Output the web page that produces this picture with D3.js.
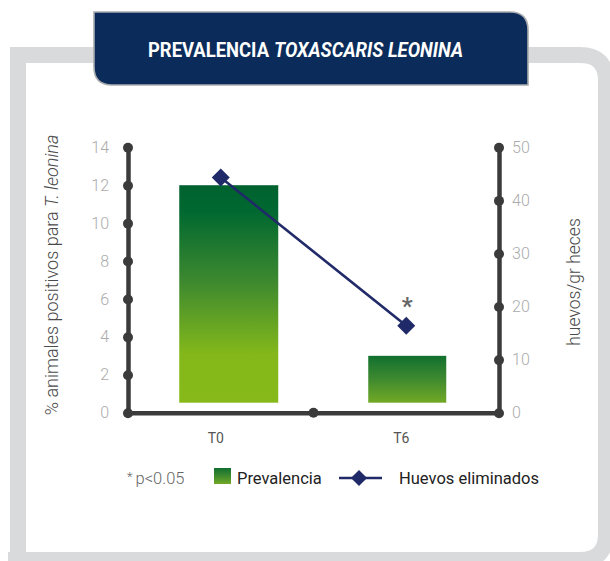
<!DOCTYPE html>
<html>
<head>
<meta charset="utf-8">
<script src="https://cdn.jsdelivr.net/npm/d3@7"></script>
<style>
  html, body { margin: 0; padding: 0; background: #fff; }
  svg { display: block; }
</style>
</head>
<body>
<svg id="chart" width="610" height="561"></svg>
<script>
// Sampling times and measured values
const categories = ["T0", "T6"];
const prevalence = [12, 3];            // % animals positive for T. leonina
const eggs = [44.3, 16.4];              // eggs per gram of faeces
const significant = [false, true];      // * p<0.05
const leftTicks = [0, 2, 4, 6, 8, 10, 12, 14];
const rightTicks = [0, 10, 20, 30, 40, 50];

const svg = d3.select("#chart");
const W = 610, H = 561;
const axisColor = "#3b3b3b";
const tickColor = "#ababab";
const font = "Roboto, 'Open Sans', sans-serif";

// Gradients for the bars and the legend swatch
const defs = svg.append("defs");
function grad(id, stops) {
  const g = defs.append("linearGradient").attr("id", id)
    .attr("x1", 0).attr("y1", 0).attr("x2", 0).attr("y2", 1);
  stops.forEach(s => g.append("stop").attr("offset", s[0]).attr("stop-color", s[1]));
}
grad("gBar0", [[0, "#00622f"], [0.12, "#006830"], [0.45, "#3f8a2f"], [0.78, "#84b81a"], [1, "#86b919"]]);
grad("gBar1", [[0, "#11702f"], [0.5, "#3f8a2f"], [1, "#72a925"]]);
const barGrad = ["url(#gBar0)", "url(#gBar1)"];

// Outer light-grey frame
const fr = { l: 18, t: 55, r: 606, b: 560, rad: 26 };
svg.append("path")
  .attr("d", `M${fr.l},${H + 20} L${fr.l},${fr.t} L${fr.r - fr.rad},${fr.t}
              Q${fr.r},${fr.t} ${fr.r},${fr.t + fr.rad} L${fr.r},${fr.b - fr.rad}
              Q${fr.r},${fr.b} ${fr.r - fr.rad},${fr.b} L${fr.l - 10},${fr.b}`)
  .attr("fill", "none").attr("stroke", "#d9dadb").attr("stroke-width", 16);

// Title banner
const tb = { x: 94, y: 12, w: 434, h: 73, r: 18 };
svg.append("path")
  .attr("d", `M${tb.x},${tb.y} L${tb.x + tb.w - tb.r},${tb.y}
              Q${tb.x + tb.w},${tb.y} ${tb.x + tb.w},${tb.y + tb.r}
              L${tb.x + tb.w},${tb.y + tb.h} L${tb.x + tb.r},${tb.y + tb.h}
              Q${tb.x},${tb.y + tb.h} ${tb.x},${tb.y + tb.h - tb.r} Z`)
  .attr("fill", "#0b2c5a").attr("stroke", "#a9abae").attr("stroke-width", 1.6);
svg.append("text").attr("x", 148).attr("y", 57)
  .attr("font-family", font).attr("font-weight", 700).attr("font-size", 19.5)
  .attr("fill", "#fff").attr("textLength", 121).attr("lengthAdjust", "spacingAndGlyphs")
  .text("PREVALENCIA");
svg.append("text").attr("x", 274).attr("y", 57)
  .attr("font-family", font).attr("font-weight", 700).attr("font-style", "italic")
  .attr("font-size", 19.5).attr("fill", "#fff")
  .attr("textLength", 189).attr("lengthAdjust", "spacingAndGlyphs")
  .text("TOXASCARIS LEONINA");

// Scales
const plot = { l: 128, r: 499, t: 147.3, b: 412.7 };
const x = d3.scaleBand().domain(categories).range([plot.l, plot.r]);
const yL = d3.scaleLinear().domain([0, 14]).range([plot.b, plot.t]);
const yR = d3.scaleLinear().domain([0, 50]).range([plot.b, plot.t]);
const cx = c => x(c) + x.bandwidth() / 2;

// Bars (sit slightly above the baseline line)
const barShape = [{ dx: 8, w: 99 }, { dx: 1, w: 78 }];
const barGap = 10;
svg.append("g").selectAll("rect").data(categories).join("rect")
  .attr("x", (c, i) => cx(c) + barShape[i].dx - barShape[i].w / 2)
  .attr("width", (c, i) => barShape[i].w)
  .attr("y", (c, i) => yL(prevalence[i]))
  .attr("height", (c, i) => yL(0) - barGap - yL(prevalence[i]))
  .attr("fill", (c, i) => barGrad[i]);

// Axes: thick lines with dot markers at every tick
function styleAxis(g) {
  g.select(".domain").attr("stroke", axisColor).attr("stroke-width", 4.5);
  g.selectAll(".tick line").remove();
  g.selectAll(".tick text")
    .attr("fill", tickColor).attr("font-family", font).attr("font-weight", 300)
    .attr("font-size", 16);
}
const gL = svg.append("g").attr("transform", `translate(${plot.l},0)`)
  .call(d3.axisLeft(yL).tickValues(leftTicks).tickSize(0).tickPadding(19).tickSizeOuter(0));
styleAxis(gL);
gL.selectAll(".tick").append("circle").attr("r", 5).attr("fill", axisColor);

const gR = svg.append("g").attr("transform", `translate(${plot.r},0)`)
  .call(d3.axisRight(yR).tickValues(rightTicks).tickSize(0).tickPadding(13).tickSizeOuter(0));
styleAxis(gR);
gR.selectAll(".tick").append("circle").attr("r", 5).attr("fill", axisColor);

const gB = svg.append("g").attr("transform", `translate(0,${plot.b})`)
  .call(d3.axisBottom(x).tickSize(0).tickSizeOuter(0).tickPadding(0));
gB.select(".domain").attr("stroke", axisColor).attr("stroke-width", 4.5);
gB.selectAll(".tick text").remove();
gB.append("circle").attr("cx", (plot.l + plot.r) / 2).attr("cy", 0).attr("r", 5).attr("fill", axisColor);
gB.selectAll(".cat").data(categories).join("text").attr("class", "cat")
  .attr("x", c => cx(c) - 5).attr("y", 30).attr("text-anchor", "middle")
  .attr("font-family", font).attr("font-size", 14).attr("fill", "#555")
  .text(c => c);

// Axis titles
const lt = svg.append("text")
  .attr("transform", `translate(58,${(plot.t + plot.b) / 2 - 5}) rotate(-90)`)
  .attr("text-anchor", "middle").attr("font-family", font).attr("font-weight", 300)
  .attr("font-size", 18).attr("fill", "#4a4a4a");
lt.append("tspan").text("% animales positivos para ");
lt.append("tspan").attr("font-style", "italic").text("T. leonina");

svg.append("text")
  .attr("transform", `translate(580,${(plot.t + plot.b) / 2 + 2}) rotate(-90)`)
  .attr("text-anchor", "middle").attr("font-family", font).attr("font-weight", 300)
  .attr("font-size", 17.5).attr("fill", "#4a4a4a")
  .text("huevos/gr heces");

// Egg count line with diamond markers
const lineColor = "#202a68";
svg.append("path")
  .datum(categories)
  .attr("d", d3.line().x(c => cx(c)).y((c, i) => yR(eggs[i])))
  .attr("fill", "none").attr("stroke", lineColor).attr("stroke-width", 2.6);
const diamond = d3.symbol().type(d3.symbolSquare).size(162);
svg.append("g").selectAll("path").data(categories).join("path")
  .attr("transform", (c, i) => `translate(${cx(c)},${yR(eggs[i])}) rotate(45)`)
  .attr("d", diamond).attr("fill", lineColor);

// Significance marks
svg.append("g").selectAll("text").data(categories.filter((c, i) => significant[i])).join("text")
  .attr("x", c => cx(c) + 1)
  .attr("y", c => yR(eggs[categories.indexOf(c)]) - 12)
  .attr("text-anchor", "middle").attr("font-family", font).attr("font-weight", 700)
  .attr("font-size", 24).attr("fill", "#666")
  .text("*");

// Legend
const lg = svg.append("g");
lg.append("text").attr("x", 127).attr("y", 484)
  .attr("font-family", font).attr("font-weight", 300).attr("font-size", 16.5).attr("fill", "#666")
  .call(t => {
    t.append("tspan").attr("font-size", 13).attr("dy", -3).text("*");
    t.append("tspan").attr("dy", 3).attr("dx", 3).text("p<0.05");
  });
lg.append("rect").attr("x", 214).attr("y", 468).attr("width", 17).attr("height", 16)
  .attr("fill", "url(#gBar1)");
lg.append("text").attr("x", 237).attr("y", 484)
  .attr("font-family", font).attr("font-size", 16.5).attr("fill", "#222")
  .text("Prevalencia");
lg.append("line").attr("x1", 339).attr("x2", 382).attr("y1", 478).attr("y2", 478)
  .attr("stroke", lineColor).attr("stroke-width", 2.6);
lg.append("path").attr("transform", "translate(359,478) rotate(45)")
  .attr("d", d3.symbol().type(d3.symbolSquare).size(130)).attr("fill", lineColor);
lg.append("text").attr("x", 399).attr("y", 484)
  .attr("font-family", font).attr("font-size", 16.5).attr("fill", "#222")
  .text("Huevos eliminados");
</script>
</body>
</html>
